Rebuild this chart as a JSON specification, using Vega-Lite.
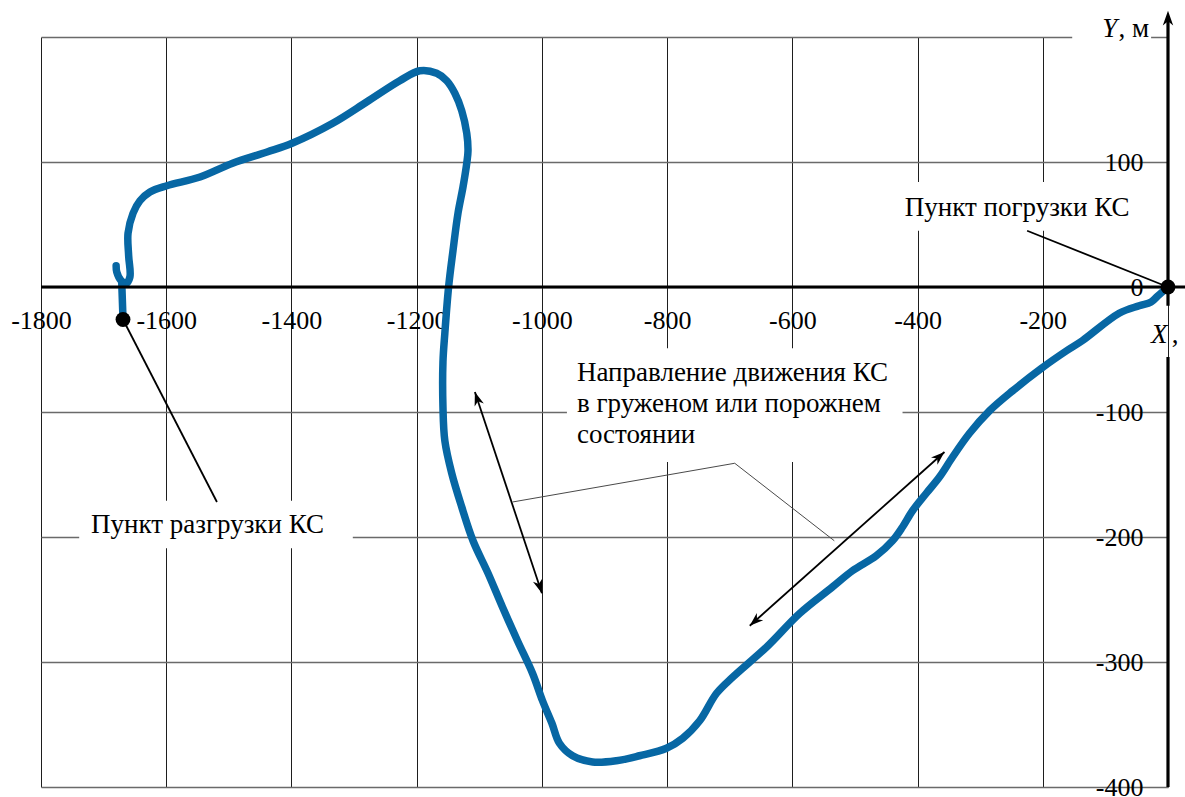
{
  "$schema": "https://vega.github.io/schema/vega-lite/v6.json",
  "width": 1127,
  "height": 750,
  "autosize": {"type": "none"},
  "padding": {"left": 41, "top": 37, "right": 17, "bottom": 10},
  "background": "white",
  "config": {"view": {"stroke": null}, "font": "'Liberation Serif', 'Times New Roman', 'DejaVu Serif', serif"},
  "datasets": {
    "track": [
      {"i": 1, "seg": "A", "X": 0, "Y": 0},
      {"i": 2, "seg": "A", "X": -16, "Y": -7},
      {"i": 3, "seg": "A", "X": -27, "Y": -12},
      {"i": 4, "seg": "A", "X": -46, "Y": -15},
      {"i": 5, "seg": "A", "X": -78, "Y": -21},
      {"i": 6, "seg": "A", "X": -137, "Y": -43},
      {"i": 7, "seg": "A", "X": -162, "Y": -51},
      {"i": 8, "seg": "A", "X": -202, "Y": -65},
      {"i": 9, "seg": "A", "X": -248, "Y": -83},
      {"i": 10, "seg": "A", "X": -285, "Y": -99},
      {"i": 11, "seg": "A", "X": -317, "Y": -117},
      {"i": 12, "seg": "A", "X": -344, "Y": -136},
      {"i": 13, "seg": "A", "X": -365, "Y": -152},
      {"i": 14, "seg": "A", "X": -386, "Y": -165},
      {"i": 15, "seg": "A", "X": -408, "Y": -179},
      {"i": 16, "seg": "A", "X": -424, "Y": -192},
      {"i": 17, "seg": "A", "X": -440, "Y": -203},
      {"i": 18, "seg": "A", "X": -466, "Y": -215},
      {"i": 19, "seg": "A", "X": -504, "Y": -227},
      {"i": 20, "seg": "A", "X": -536, "Y": -240},
      {"i": 21, "seg": "A", "X": -588, "Y": -261},
      {"i": 22, "seg": "A", "X": -641, "Y": -288},
      {"i": 23, "seg": "A", "X": -695, "Y": -312},
      {"i": 24, "seg": "A", "X": -721, "Y": -325},
      {"i": 25, "seg": "A", "X": -748, "Y": -347},
      {"i": 26, "seg": "A", "X": -775, "Y": -361},
      {"i": 27, "seg": "A", "X": -801, "Y": -369},
      {"i": 28, "seg": "A", "X": -844, "Y": -375},
      {"i": 29, "seg": "A", "X": -881, "Y": -379},
      {"i": 30, "seg": "A", "X": -919, "Y": -380},
      {"i": 31, "seg": "A", "X": -951, "Y": -375},
      {"i": 32, "seg": "A", "X": -972, "Y": -365},
      {"i": 33, "seg": "A", "X": -984, "Y": -349},
      {"i": 34, "seg": "A", "X": -999, "Y": -331},
      {"i": 35, "seg": "A", "X": -1015, "Y": -309},
      {"i": 36, "seg": "A", "X": -1039, "Y": -283},
      {"i": 37, "seg": "A", "X": -1063, "Y": -256},
      {"i": 38, "seg": "A", "X": -1086, "Y": -229},
      {"i": 39, "seg": "A", "X": -1110, "Y": -203},
      {"i": 40, "seg": "A", "X": -1128, "Y": -176},
      {"i": 41, "seg": "A", "X": -1144, "Y": -149},
      {"i": 42, "seg": "A", "X": -1155, "Y": -123},
      {"i": 43, "seg": "A", "X": -1158, "Y": -96},
      {"i": 44, "seg": "A", "X": -1158, "Y": -60},
      {"i": 45, "seg": "A", "X": -1155, "Y": -37},
      {"i": 46, "seg": "A", "X": -1149, "Y": 0},
      {"i": 47, "seg": "A", "X": -1142, "Y": 29},
      {"i": 48, "seg": "A", "X": -1134, "Y": 59},
      {"i": 49, "seg": "A", "X": -1126, "Y": 80},
      {"i": 50, "seg": "A", "X": -1120, "Y": 99},
      {"i": 51, "seg": "A", "X": -1118, "Y": 109},
      {"i": 52, "seg": "A", "X": -1120, "Y": 123},
      {"i": 53, "seg": "A", "X": -1128, "Y": 141},
      {"i": 54, "seg": "A", "X": -1139, "Y": 155},
      {"i": 55, "seg": "A", "X": -1152, "Y": 165},
      {"i": 56, "seg": "A", "X": -1168, "Y": 171},
      {"i": 57, "seg": "A", "X": -1195, "Y": 173},
      {"i": 58, "seg": "A", "X": -1227, "Y": 165},
      {"i": 59, "seg": "A", "X": -1280, "Y": 148},
      {"i": 60, "seg": "A", "X": -1334, "Y": 131},
      {"i": 61, "seg": "A", "X": -1399, "Y": 115},
      {"i": 62, "seg": "A", "X": -1439, "Y": 108},
      {"i": 63, "seg": "A", "X": -1494, "Y": 99},
      {"i": 64, "seg": "A", "X": -1546, "Y": 88},
      {"i": 65, "seg": "A", "X": -1599, "Y": 81},
      {"i": 66, "seg": "A", "X": -1626, "Y": 76},
      {"i": 67, "seg": "A", "X": -1642, "Y": 69},
      {"i": 68, "seg": "A", "X": -1653, "Y": 59},
      {"i": 69, "seg": "A", "X": -1661, "Y": 43},
      {"i": 70, "seg": "A", "X": -1660, "Y": 25},
      {"i": 71, "seg": "A", "X": -1658, "Y": 8},
      {"i": 72, "seg": "A", "X": -1664, "Y": 3},
      {"i": 73, "seg": "A", "X": -1672, "Y": 5},
      {"i": 74, "seg": "A", "X": -1679, "Y": 12},
      {"i": 75, "seg": "A", "X": -1680, "Y": 17},
      {"i": 76, "seg": "B", "X": -1671, "Y": 3},
      {"i": 77, "seg": "B", "X": -1669, "Y": -26}
    ],
    "boxes": [
      {"name": "load", "X": -437, "X2": -46, "Y": 45, "Y2": 84},
      {"name": "unload", "X": -1739, "X2": -1302, "Y": -209, "Y2": -171},
      {"name": "dir", "X": -960, "X2": -424, "Y": -140, "Y2": -49},
      {"name": "ytitle", "X": -153, "X2": -27, "Y": 192, "Y2": 212}
    ],
    "leaders": [
      {"id": "load", "kind": "black", "k": 1, "X": -225, "Y": 45},
      {"id": "load", "kind": "black", "k": 2, "X": 0, "Y": 0},
      {"id": "unload", "kind": "black", "k": 1, "X": -1669, "Y": -26},
      {"id": "unload", "kind": "black", "k": 2, "X": -1519, "Y": -172},
      {"id": "arrow1", "kind": "black", "k": 1, "X": -1107, "Y": -84},
      {"id": "arrow1", "kind": "black", "k": 2, "X": -1000, "Y": -245},
      {"id": "arrow2", "kind": "black", "k": 1, "X": -668, "Y": -271},
      {"id": "arrow2", "kind": "black", "k": 2, "X": -357, "Y": -132},
      {"id": "dirlead", "kind": "gray", "k": 1, "X": -1047, "Y": -172},
      {"id": "dirlead", "kind": "gray", "k": 2, "X": -692, "Y": -141},
      {"id": "dirlead", "kind": "gray", "k": 3, "X": -533, "Y": -203}
    ],
    "heads": [
      {"h": "a1top", "X": -1107, "Y": -84},
      {"h": "a1bot", "X": -1000, "Y": -245},
      {"h": "a2bot", "X": -668, "Y": -271},
      {"h": "a2top", "X": -357, "Y": -132},
      {"h": "yaxis", "X": 0, "Y": 221}
    ],
    "points": [
      {"name": "Пункт погрузки КС", "X": 0, "Y": 0},
      {"name": "Пункт разгрузки КС", "X": -1669, "Y": -26}
    ],
    "labels": [
      {"t": "Пункт погрузки КС", "X": -241, "Y": 57},
      {"t": "Пункт разгрузки КС", "X": -1534, "Y": -197}
    ],
    "yline": [
      {"Y": -400, "Y2": -56},
      {"Y": -15, "Y2": 215}
    ]
  },
  "layer": [
    {
      "data": {"name": "boxes"},
      "mark": {"type": "rect", "fill": "white", "stroke": null},
      "encoding": {
        "x": {
          "field": "X", "type": "quantitative",
          "scale": {"domain": [-1800, 0], "nice": false, "zero": false},
          "axis": {
            "orient": "bottom", "offset": -500,
            "values": [-1800, -1600, -1400, -1200, -1000, -800, -600, -400, -200, 0],
            "grid": true, "gridColor": "#1e1e1e", "gridWidth": 1,
            "domain": false, "ticks": false, "tickSize": 0,
            "labelPadding": 20, "labelFontSize": 26, "labelFont": "'Liberation Serif', 'Times New Roman', serif",
            "labelColor": "black", "labelFlush": false, "labelOverlap": false,
            "labelExpr": "datum.value == 0 ? '' : '' + datum.value",
            "title": null
          }
        },
        "x2": {"field": "X2"},
        "y": {
          "field": "Y", "type": "quantitative",
          "scale": {"domain": [-400, 200], "nice": false, "zero": false},
          "axis": {
            "orient": "left", "offset": -1127,
            "values": [-400, -300, -200, -100, 0, 100, 200],
            "grid": true, "gridColor": "#6a6a6a", "gridWidth": 1.4,
            "domain": false, "ticks": false, "tickSize": 0,
            "labelPadding": 25, "labelFontSize": 26, "labelFont": "'Liberation Serif', 'Times New Roman', serif",
            "labelColor": "black", "labelFlush": false, "labelOverlap": false,
            "labelBaseline": "middle",
            "labelExpr": "datum.value == 200 ? '' : '' + datum.value",
            "title": null
          }
        },
        "y2": {"field": "Y2"}
      }
    },
    {
      "data": {"name": "track"},
      "mark": {"type": "line", "color": "#0767a4", "strokeWidth": 7.5, "strokeCap": "round", "strokeJoin": "round", "interpolate": "catmull-rom"},
      "encoding": {
        "x": {"field": "X", "type": "quantitative"},
        "y": {"field": "Y", "type": "quantitative"},
        "detail": {"field": "seg"},
        "order": {"field": "i", "type": "quantitative"}
      }
    },
    {
      "data": {"values": [{}]},
      "mark": {"type": "rule", "color": "black", "strokeWidth": 3.2},
      "encoding": {
        "x": {"datum": -1800, "type": "quantitative"},
        "x2": {"datum": 28},
        "y": {"datum": 0, "type": "quantitative"}
      }
    },
    {
      "data": {"name": "yline"},
      "mark": {"type": "rule", "color": "black", "strokeWidth": 3.2},
      "encoding": {
        "x": {"datum": 0, "type": "quantitative"},
        "y": {"field": "Y", "type": "quantitative"},
        "y2": {"field": "Y2"}
      }
    },
    {
      "data": {"name": "leaders"},
      "transform": [{"filter": "datum.kind == 'black'"}],
      "mark": {"type": "line", "color": "black", "strokeWidth": 1.8},
      "encoding": {
        "x": {"field": "X", "type": "quantitative"},
        "y": {"field": "Y", "type": "quantitative"},
        "detail": {"field": "id"},
        "order": {"field": "k", "type": "quantitative"}
      }
    },
    {
      "data": {"name": "leaders"},
      "transform": [{"filter": "datum.kind == 'gray'"}],
      "mark": {"type": "line", "color": "#4a4a4a", "strokeWidth": 1},
      "encoding": {
        "x": {"field": "X", "type": "quantitative"},
        "y": {"field": "Y", "type": "quantitative"},
        "detail": {"field": "id"},
        "order": {"field": "k", "type": "quantitative"}
      }
    },
    {
      "data": {"name": "heads"},
      "transform": [{"filter": "datum.h == 'a1top'"}],
      "mark": {"type": "point", "shape": "M0,0L0.6,1.7L0,1.2L-0.6,1.7Z", "filled": true, "color": "black", "opacity": 1, "size": 260, "angle": -18.4},
      "encoding": {"x": {"field": "X", "type": "quantitative"}, "y": {"field": "Y", "type": "quantitative"}}
    },
    {
      "data": {"name": "heads"},
      "transform": [{"filter": "datum.h == 'a1bot'"}],
      "mark": {"type": "point", "shape": "M0,0L0.6,1.7L0,1.2L-0.6,1.7Z", "filled": true, "color": "black", "opacity": 1, "size": 260, "angle": 161.6},
      "encoding": {"x": {"field": "X", "type": "quantitative"}, "y": {"field": "Y", "type": "quantitative"}}
    },
    {
      "data": {"name": "heads"},
      "transform": [{"filter": "datum.h == 'a2top'"}],
      "mark": {"type": "point", "shape": "M0,0L0.6,1.7L0,1.2L-0.6,1.7Z", "filled": true, "color": "black", "opacity": 1, "size": 260, "angle": 48.4},
      "encoding": {"x": {"field": "X", "type": "quantitative"}, "y": {"field": "Y", "type": "quantitative"}}
    },
    {
      "data": {"name": "heads"},
      "transform": [{"filter": "datum.h == 'a2bot'"}],
      "mark": {"type": "point", "shape": "M0,0L0.6,1.7L0,1.2L-0.6,1.7Z", "filled": true, "color": "black", "opacity": 1, "size": 260, "angle": 228.4},
      "encoding": {"x": {"field": "X", "type": "quantitative"}, "y": {"field": "Y", "type": "quantitative"}}
    },
    {
      "data": {"name": "heads"},
      "transform": [{"filter": "datum.h == 'yaxis'"}],
      "mark": {"type": "point", "shape": "M0,0L0.6,1.7L0,1.2L-0.6,1.7Z", "filled": true, "color": "black", "opacity": 1, "size": 300, "angle": 0},
      "encoding": {"x": {"field": "X", "type": "quantitative"}, "y": {"field": "Y", "type": "quantitative"}}
    },
    {
      "data": {"name": "points"},
      "mark": {"type": "point", "shape": "circle", "filled": true, "color": "black", "opacity": 1, "size": 220},
      "encoding": {"x": {"field": "X", "type": "quantitative"}, "y": {"field": "Y", "type": "quantitative"}}
    },
    {
      "data": {"name": "labels"},
      "mark": {"type": "text", "fontSize": 27, "color": "black", "align": "center", "baseline": "alphabetic"},
      "encoding": {
        "x": {"field": "X", "type": "quantitative"},
        "y": {"field": "Y", "type": "quantitative"},
        "text": {"field": "t"}
      }
    },
    {
      "data": {"values": [{"t": "Направление движения КС\nв груженом или порожнем\nсостоянии", "X": -944, "Y": -75}]},
      "mark": {"type": "text", "fontSize": 27, "color": "black", "align": "left", "baseline": "alphabetic", "lineBreak": "\n", "lineHeight": 31},
      "encoding": {
        "x": {"field": "X", "type": "quantitative"},
        "y": {"field": "Y", "type": "quantitative"},
        "text": {"field": "t"}
      }
    },
    {
      "data": {"values": [{"t": "Y", "X": -105, "Y": 200}, {"t": "X", "X": -27, "Y": -45}]},
      "mark": {"type": "text", "fontSize": 27, "fontStyle": "italic", "color": "black", "align": "left", "baseline": "alphabetic"},
      "encoding": {
        "x": {"field": "X", "type": "quantitative"},
        "y": {"field": "Y", "type": "quantitative"},
        "text": {"field": "t"}
      }
    },
    {
      "data": {"values": [{"t": ", м", "X": -79, "Y": 200}, {"t": ", м", "X": 6, "Y": -45}]},
      "mark": {"type": "text", "fontSize": 27, "color": "black", "align": "left", "baseline": "alphabetic"},
      "encoding": {
        "x": {"field": "X", "type": "quantitative"},
        "y": {"field": "Y", "type": "quantitative"},
        "text": {"field": "t"}
      }
    }
  ]
}
